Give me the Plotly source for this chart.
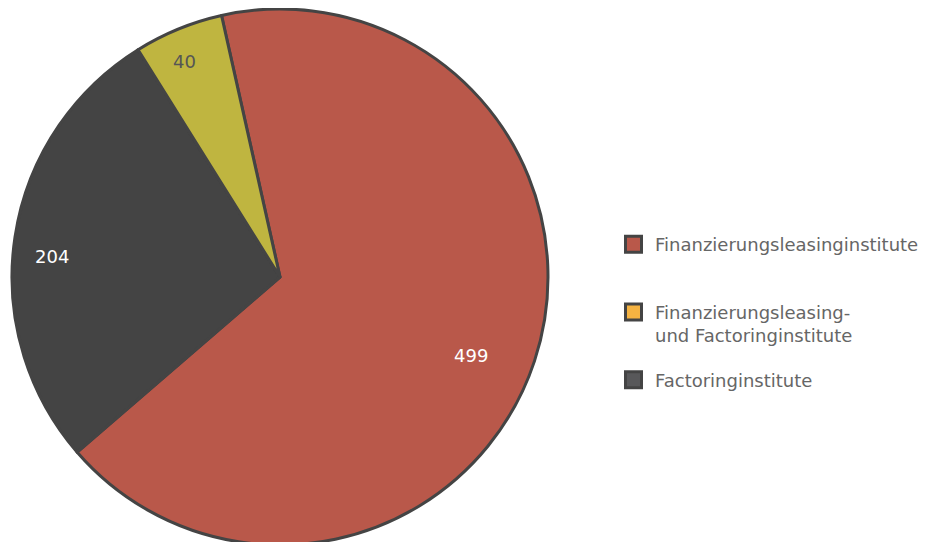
import math
import plotly.graph_objects as go

labels = ["Finanzierungsleasinginstitute",
          "Factoringinstitute",
          "Finanzierungsleasing-<br>und Factoringinstitute"]
values = [499, 204, 40]
slice_colors = ["#b9584a", "#444444", "#bfb540"]
text_colors = ["#ffffff", "#ffffff", "#555555"]
label_shift_x = [-18, -30, -26]    # label nudges in px (style)
label_shift_y = [-10, -12, 25]

legend_labels = ["Finanzierungsleasinginstitute<br>\u00a0",
                 "Finanzierungsleasing-<br>und Factoringinstitute",
                 "Factoringinstitute"]
legend_colors = ["#b9584a", "#f5b342", "#58585a"]

W, H = 939, 542
ML, MR, MT, MB = 0, 0, 1, 5
CX, CY, R = 272, 269, 268          # pie centre / radius in figure pixels
START = -12.6                      # start angle of first slice (deg, clockwise from 12 o'clock)
LABEL_R = 0.82

pw, ph = W - ML - MR, H - MT - MB

fig = go.Figure()
fig.add_trace(go.Pie(
    labels=labels, values=values, sort=False,
    direction="clockwise", rotation=START,
    marker=dict(colors=slice_colors, line=dict(color="#444444", width=3)),
    textinfo="none",
    domain=dict(x=[(CX - R - ML) / pw, (CX + R - ML) / pw], y=[0, 1]),
    showlegend=False, hoverinfo="label+value",
))

total = sum(values)
acc = 0
for v, c, sx, sy in zip(values, text_colors, label_shift_x, label_shift_y):
    mid = START + (acc + v / 2) / total * 360
    acc += v
    a = math.radians(mid)
    px = CX + LABEL_R * R * math.sin(a)
    py = CY - LABEL_R * R * math.cos(a)
    fig.add_annotation(
        x=(px - ML) / pw, y=1 - (py - MT) / ph, xref="paper", yref="paper",
        text=str(v), showarrow=False, xshift=sx, yshift=sy,
        font=dict(family="DejaVu Sans", size=18, color=c),
    )

for lab, col in zip(legend_labels, legend_colors):
    fig.add_trace(go.Scatter(
        x=[None], y=[None], mode="markers", name=lab, legendgroup=lab,
        marker=dict(symbol="square", size=16, color=col,
                    line=dict(color="#444444", width=3)),
    ))

fig.update_layout(
    width=W, height=H, autosize=False,
    margin=dict(l=ML, r=MR, t=MT, b=MB),
    paper_bgcolor="white", plot_bgcolor="white",
    xaxis=dict(visible=False), yaxis=dict(visible=False),
    legend=dict(x=604 / pw, y=1 - (218 - MT) / ph, xanchor="left", yanchor="top",
                font=dict(family="DejaVu Sans", size=18, color="#666666"),
                tracegroupgap=18, itemwidth=33, valign="top"),
)
fig.write_html("out.html")
